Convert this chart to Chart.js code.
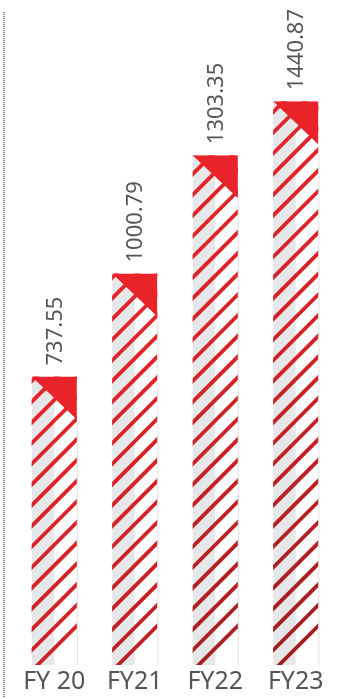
<!DOCTYPE html>
<html>
<head>
<meta charset="utf-8">
<script src="https://cdn.jsdelivr.net/npm/chart.js@4/dist/chart.umd.min.js"></script>
<style>
  html, body { margin: 0; padding: 0; background: #fff; }
  #wrap { width: 341px; height: 699px; position: relative; }
</style>
</head>
<body>
<div id="wrap"><canvas id="myChart"></canvas></div>
<script>
// dados do gráfico
var years = ['FY 20', 'FY21', 'FY22', 'FY23'];
var values = [737.55, 1000.79, 1303.35, 1440.87];
var valueLabels = ['737.55', '1000.79', '1303.35', '1440.87'];

// desenha listras, metade cinza e o triângulo vermelho em cada barra
var stripedBars = {
  id: 'stripedBars',
  afterDatasetsDraw: function(chart) {
    var ctx = chart.ctx;
    var meta = chart.getDatasetMeta(0);
    meta.data.forEach(function(bar, i) {
      var left = bar.x - bar.width / 2;
      var right = bar.x + bar.width / 2;
      var top = bar.y;
      var bottom = bar.base;
      var w = right - left;

      ctx.save();
      ctx.beginPath();
      ctx.rect(left, top, w, bottom - top);
      ctx.clip();

      // metade esquerda cinza
      ctx.fillStyle = '#e6e7e8';
      ctx.fillRect(left, top, w / 2, bottom - top);

      // listras diagonais
      var grad = ctx.createLinearGradient(0, top, 0, top + 570);
      grad.addColorStop(0, '#e5242b');
      grad.addColorStop(0.45, '#d02226');
      grad.addColorStop(1, '#9e1c1c');
      ctx.strokeStyle = grad;
      ctx.lineWidth = 3.8;
      var step = 20.7;
      var c0 = left + bottom + 6;
      for (var c = c0; c > left + top - step; c -= step) {
        ctx.beginPath();
        ctx.moveTo(c - bottom - 5, bottom + 5);
        ctx.lineTo(c - top + 5, top - 5);
        ctx.stroke();
      }

      // triângulo no topo
      ctx.fillStyle = '#e8232a';
      ctx.beginPath();
      ctx.moveTo(left, top);
      ctx.lineTo(right, top);
      ctx.lineTo(right, top + w * 0.95);
      ctx.closePath();
      ctx.fill();
      ctx.restore();

      // borda direita clara
      ctx.save();
      ctx.strokeStyle = '#e2e2e2';
      ctx.lineWidth = 1;
      ctx.beginPath();
      ctx.moveTo(right + 0.5, top + w);
      ctx.lineTo(right + 0.5, bottom);
      ctx.stroke();
      ctx.restore();

      // rótulo do valor, girado
      ctx.save();
      ctx.translate(bar.x, top - 11);
      ctx.rotate(-Math.PI / 2);
      ctx.fillStyle = '#555';
      ctx.font = '22px "Noto Sans"';
      ctx.textAlign = 'left';
      ctx.textBaseline = 'middle';
      ctx.fillText(valueLabels[i], 0, 1);
      ctx.restore();
    });

    // linha pontilhada à esquerda
    ctx.save();
    ctx.strokeStyle = '#888';
    ctx.lineWidth = 2;
    ctx.setLineDash([1, 1]);
    ctx.beginPath();
    ctx.moveTo(4, 12);
    ctx.lineTo(4, 698);
    ctx.stroke();
    ctx.restore();
  }
};

var ctx = document.getElementById('myChart').getContext('2d');
var chart = new Chart(ctx, {
  type: 'bar',
  data: {
    labels: years,
    datasets: [{
      label: 'Valores',
      data: values,
      backgroundColor: '#ffffff',
      borderWidth: 0,
      barPercentage: 0.75,
      categoryPercentage: 0.75
    }]
  },
  options: {
    responsive: true,
    maintainAspectRatio: false,
    animation: false,
    layout: { padding: { left: 14, right: 5, top: 0, bottom: 0 } },
    plugins: {
      legend: { display: false },
      tooltip: { enabled: false }
    },
    scales: {
      x: {
        grid: { display: false, drawTicks: false },
        border: { display: false },
        ticks: {
          color: '#555',
          font: { family: 'Noto Sans', size: 25 },
          padding: 2,
          maxRotation: 0
        }
      },
      y: {
        display: false,
        min: 0,
        max: 1700
      }
    }
  },
  plugins: [stripedBars]
});
</script>
</body>
</html>
